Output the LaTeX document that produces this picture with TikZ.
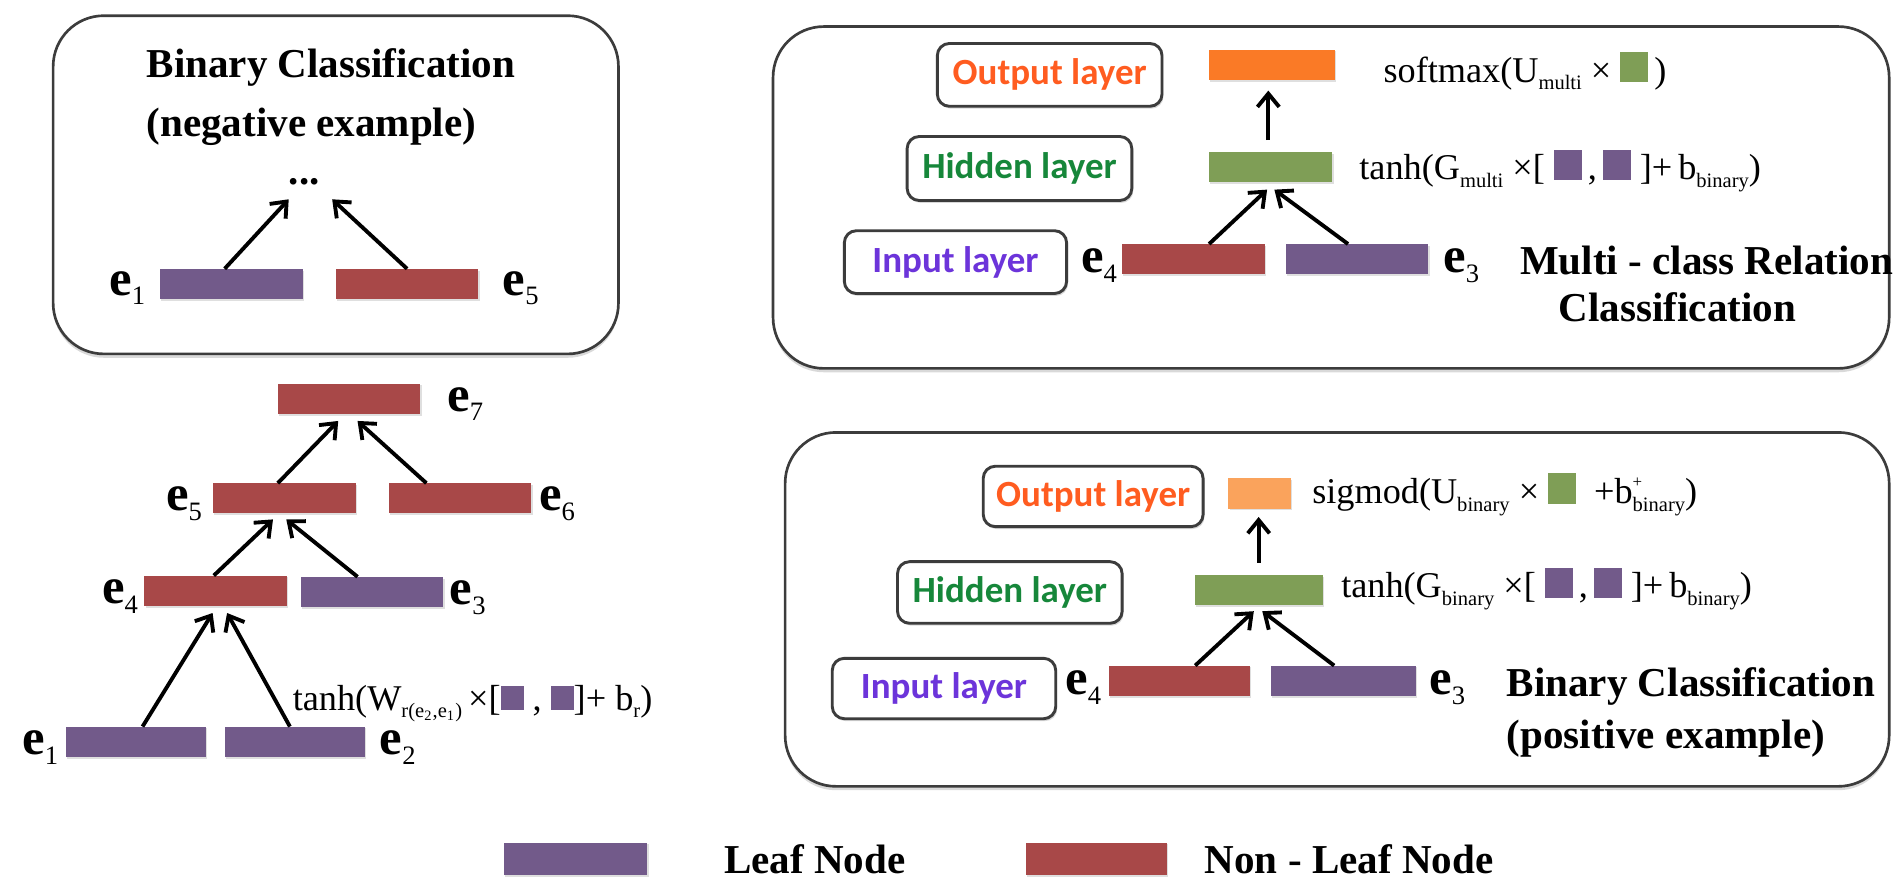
\documentclass[tikz,border=0pt]{standalone}
\usepackage{fontspec}
\setmainfont{Liberation Serif}
\newfontfamily\layerfont{Carlito}
\usetikzlibrary{arrows.meta,calc,shadows}
\definecolor{leafc}{RGB}{114,90,138}
\definecolor{nonleafc}{RGB}{168,72,72}
\definecolor{hidc}{RGB}{127,158,86}
\definecolor{outc}{RGB}{250,122,38}
\definecolor{outlc}{RGB}{250,163,92}
\definecolor{outtxt}{RGB}{255,92,32}
\definecolor{hidtxt}{RGB}{22,135,58}
\definecolor{intxt}{RGB}{108,52,218}
\definecolor{boxline}{RGB}{60,60,60}
\newcommand{\lo}[1]{\raisebox{-3.2pt}{\fontsize{8.5}{10}\selectfont #1}}
\newcommand{\elab}[1]{\textbf{e}\raisebox{-4pt}{\fontsize{11}{13}\selectfont\mdseries #1}}
\newcommand{\sqp}{\textcolor{leafc}{\rule{11.5pt}{12.5pt}}}
\newcommand{\sqg}{\textcolor{hidc}{\rule{11.5pt}{12.5pt}}}
\newcommand{\sqps}{\textcolor{leafc}{\rule{9.5pt}{10pt}}}
\newcommand{\bsupsub}[2]{b\raisebox{-3.2pt}{\fontsize{7}{7}\selectfont\begin{tabular}[b]{@{}l@{}}#1\\[2pt]\fontsize{8.5}{9}\selectfont #2\end{tabular}}}
\tikzset{
  bar/.style={draw=none, inner sep=0pt, outer sep=0pt, minimum height=12.5pt, minimum width=59pt,
    drop shadow={shadow xshift=0.5pt, shadow yshift=-0.8pt, opacity=0.25}},
  leaf/.style={bar, fill=leafc},
  nonleaf/.style={bar, fill=nonleafc},
  hid/.style={bar, fill=hidc},
  bigbox/.style={draw=boxline, line width=1.1pt, rounded corners=21pt, fill=white,
    drop shadow={shadow xshift=0pt, shadow yshift=-1.6pt, opacity=0.3}},
  layerbox/.style={draw=boxline, line width=1.2pt, rounded corners=5pt, fill=white, inner sep=0pt,
    drop shadow={shadow xshift=0.6pt, shadow yshift=-1pt, opacity=0.3},
    font=\layerfont\bfseries\fontsize{15.3}{18}\selectfont},
  elabel/.style={inner sep=0pt, font=\fontsize{21}{24}\selectfont},
  title/.style={inner sep=0pt, anchor=base west, font=\bfseries\fontsize{17}{20}\selectfont},
  formula/.style={inner sep=0pt, anchor=base west, font=\fontsize{15}{18}\selectfont},
  arr/.style={draw=black, line width=1.6pt, -{Straight Barb[length=5.5pt,width=9pt]}},
}
\begin{document}
\begin{tikzpicture}[x=0.5pt,y=-0.5pt]
\useasboundingbox (0,0) rectangle (1568,731);
% ---------- big boxes
\node[bigbox, minimum width=234pt, minimum height=140pt] (box1) at (278,153) {};
\node[bigbox, minimum width=462pt, minimum height=141.5pt] (box2) at (1102,163.5) {};
\node[bigbox, minimum width=457pt, minimum height=146.5pt] (box3) at (1107,504.5) {};
% ---------- box 1: negative example
\node[title] (t1a) at (121,64) {Binary Classification};
\node[title] (t1b) at (121,113) {(negative example)};
\node[inner sep=0pt, anchor=base, font=\bfseries\fontsize{17}{20}\selectfont] (dots) at (252,153) {...};
\node[leaf] (b1e1) at (191.5,235) {};
\node[nonleaf] (b1e5) at (337,235) {};
\node[elabel, anchor=base east] (lb1e1) at ($(b1e1.south west)+(-12,-3)$) {\elab{1}};
\node[elabel, anchor=base west] (lb1e5) at ($(b1e5.south east)+(20,-3)$) {\elab{5}};
\draw[arr] ($(b1e1.north)+(-5.5,0)$) -- ($(dots.base)+(-13,12)$);
\draw[arr] ($(b1e5.north)+(0,0)$) -- ($(dots.base)+(23,12)$);
% ---------- tree
\node[nonleaf] (t7) at (289,330) {};
\node[nonleaf] (t5) at (235.5,412.5) {};
\node[nonleaf] (t6) at (381,412.5) {};
\node[nonleaf] (t4) at (178.5,489) {};
\node[leaf] (t3) at (308,490) {};
\node[leaf, minimum width=58pt] (t1) at (112.5,614) {};
\node[leaf, minimum width=58pt] (t2) at (244,614) {};
\node[elabel, anchor=base west] (lt7) at ($(t7.south east)+(22,-2)$) {\elab{7}};
\node[elabel, anchor=base east] (lt5) at ($(t5.south west)+(-9,-2)$) {\elab{5}};
\node[elabel, anchor=base west] (lt6) at ($(t6.south east)+(6,-2)$) {\elab{6}};
\node[elabel, anchor=base east] (lt4) at ($(t4.south west)+(-5,-2)$) {\elab{4}};
\node[elabel, anchor=base west] (lt3) at ($(t3.south east)+(5,-2)$) {\elab{3}};
\node[elabel, anchor=base east] (lt1) at ($(t1.south west)+(-6,-2)$) {\elab{1}};
\node[elabel, anchor=base west] (lt2) at ($(t2.south east)+(12,-2)$) {\elab{2}};
\draw[arr] ($(t5.north)+(-5.5,0)$) -- ($(t7.south)+(-9,6)$);
\draw[arr] ($(t6.north)+(-28,0)$) -- ($(t7.south)+(7,6)$);
\draw[arr] ($(t4.north)+(-1.5,0)$) -- ($(t5.south)+(-9.5,5)$);
\draw[arr] ($(t3.north)+(-12,0)$) -- ($(t5.south)+(1.5,5)$);
\draw[arr] ($(t1.north)+(5.5,0)$) -- ($(t4.south)+(-2.5,6)$);
\draw[arr] ($(t2.north)+(-4,0)$) -- ($(t4.south)+(9.5,6)$);
\node[formula] (ftree) at (242,588) {tanh(W\lo{r(e\textsubscript{2},e\textsubscript{1})}\,×[\sqps\ ,\ \sqps]+\ b\lo{r})};
% ---------- box 2: multi-class
\node[layerbox, minimum width=93pt, minimum height=26pt, text=outtxt] (out1) at (869,62) {Output layer};
\node[layerbox, minimum width=93pt, minimum height=26.5pt, text=hidtxt] (hid1) at (844,139.5) {Hidden layer};
\node[layerbox, minimum width=92pt, minimum height=26pt, text=intxt] (in1) at (791,217) {Input layer};
\node[bar, fill=outc, minimum width=52pt] (o1) at (1053,53.5) {};
\node[hid, minimum width=51pt] (g1) at (1052,138.5) {};
\node[nonleaf] (m4) at (988,214.5) {};
\node[leaf] (m3) at (1123.5,214.5) {};
\node[elabel, anchor=base east] (lm4) at ($(m4.south west)+(-4,-1)$) {\elab{4}};
\node[elabel, anchor=base west] (lm3) at ($(m3.south east)+(12,-1)$) {\elab{3}};
\draw[arr] ($(m4.north)+(13,0)$) -- ($(g1.south)+(-3,6)$);
\draw[arr] ($(m3.north)+(-7.5,0)$) -- ($(g1.south)+(3,6)$);
\draw[arr] ($(g1.north)+(-2,-10)$) -- ($(o1.south)+(-3,9)$);
\node[formula] (f1) at (1145,68) {softmax(U\lo{multi}\ × \sqg\,)};
\node[formula] (f2) at (1125,149) {tanh(G\lo{multi}\ ×[\ \sqp\,,\,\sqp\ ]+\,b\lo{binary})};
\node[title] (mc1) at (1258,227) {Multi - class Relation};
\node[title] (mc2) at (1290,266) {Classification};
% ---------- box 3: binary positive
\node[layerbox, minimum width=91pt, minimum height=25pt, text=outtxt] (out2) at (905,411) {Output layer};
\node[layerbox, minimum width=93pt, minimum height=25.5pt, text=hidtxt] (hid2) at (836,490.5) {Hidden layer};
\node[layerbox, minimum width=92.5pt, minimum height=25pt, text=intxt] (in2) at (781.5,570) {Input layer};
\node[bar, fill=outlc, minimum width=26pt] (o2) at (1043,408.5) {};
\node[hid, minimum width=53pt] (g2) at (1042,488.5) {};
\node[nonleaf, minimum width=58.5pt] (n4) at (976.5,563.5) {};
\node[leaf, minimum width=60pt] (n3) at (1112,563.5) {};
\node[elabel, anchor=base east] (ln4) at ($(n4.south west)+(-6,-1)$) {\elab{4}};
\node[elabel, anchor=base west] (ln3) at ($(n3.south east)+(11,-1)$) {\elab{3}};
\draw[arr] ($(n4.north)+(13,0)$) -- ($(g2.south)+(-4,5)$);
\draw[arr] ($(n3.north)+(-7.5,0)$) -- ($(g2.south)+(3,5)$);
\draw[arr] ($(g2.north)+(0,-10)$) -- ($(o2.south)+(-1,7)$);
\node[formula] (f3) at (1086,417) {sigmod(U\lo{binary}\ × \sqg\ \ +\bsupsub{+}{binary})};
\node[formula] (f4) at (1110,495) {tanh(G\lo{binary}\ ×[\ \sqp\,,\,\sqp\ ]+\,b\lo{binary})};
\node[title] (bc1) at (1247,577) {Binary Classification};
\node[title] (bc2) at (1247,620) {(positive example)};
% ---------- legend
\node[leaf, minimum width=59.5pt, minimum height=13.5pt] (lg1) at (476.5,711) {};
\node[title] (lg1t) at (599,723) {Leaf Node};
\node[nonleaf, minimum width=58.5pt, minimum height=13.5pt] (lg2) at (907.5,711) {};
\node[title] (lg2t) at (997,723) {Non - Leaf Node};
\end{tikzpicture}
\end{document}
